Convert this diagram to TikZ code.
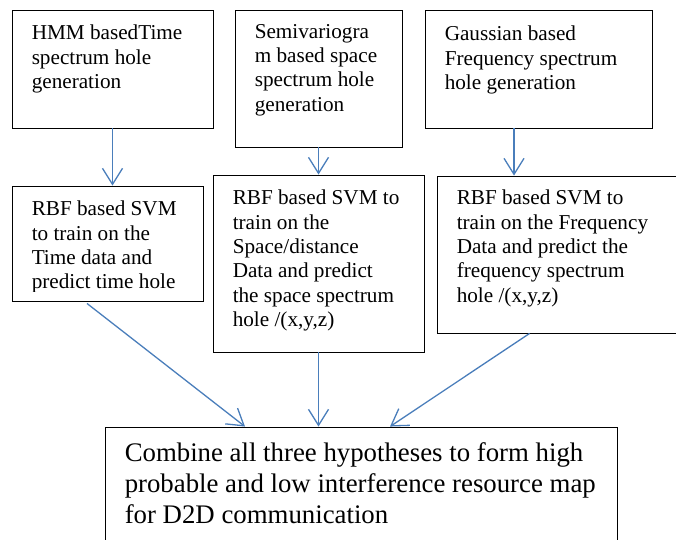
\documentclass[tikz,border=0pt]{standalone}
\usepackage{fontspec}
\setmainfont{Liberation Serif}
\usetikzlibrary{arrows.meta}
\definecolor{flowblue}{RGB}{74,126,187}
\tikzset{
  stagebox/.style={draw=black, line width=0.9pt, rectangle, inner sep=0pt},
  stagetext/.style={anchor=north west, align=left, inner sep=0pt,
    font=\fontsize{21.2}{24.3}\selectfont},
  finaltext/.style={anchor=north west, align=left, inner sep=0pt,
    font=\fontsize{26.8}{31}\selectfont},
  flow/.style={draw=flowblue, line width=1.3pt,
    -{Straight Barb[length=16pt,width=20pt,line width=1.3pt]}},
}
\begin{document}
\begin{tikzpicture}[x=1pt,y=-1pt]
\useasboundingbox (0,0) rectangle (676,539);
\begin{scope}
\clip (0,0) rectangle (676,539);

% generation stage
\node[stagebox, minimum width=201pt, minimum height=118pt] (A) at (112.5,69) {};
\node[stagebox, minimum width=167pt, minimum height=137pt] (B) at (318.5,78.5) {};
\node[stagebox, minimum width=227pt, minimum height=118pt] (C) at (538.5,69) {};

% prediction stage
\node[stagebox, minimum width=191pt, minimum height=115pt] (D) at (107.5,243.5) {};
\node[stagebox, minimum width=211pt, minimum height=177pt] (E) at (318.5,263.5) {};
\node[stagebox, minimum width=253pt, minimum height=157pt] (F) at (563.5,254.5) {};

% fusion stage
\node[stagebox, minimum width=512pt, minimum height=133pt] (G) at (361,493.5) {};

\node[stagetext] (tA) at ([xshift=20pt,yshift=-15.5pt]A.north west)
  {HMM basedTime\\spectrum hole\\generation};
\node[stagetext] (tB) at ([xshift=20pt,yshift=-14.5pt]B.north west)
  {Semivariogra\\m based space\\spectrum hole\\generation};
\node[stagetext] (tC) at ([xshift=20pt,yshift=-16.5pt]C.north west)
  {Gaussian based\\Frequency spectrum\\hole generation};

\begin{scope}
\clip ([yshift=-1pt]D.north west) rectangle ([yshift=10pt]D.south east);
\node[stagetext] (tD) at ([xshift=20pt,yshift=-15.5pt]D.north west)
  {RBF based SVM\\to train on the\\Time data and\\predict time hole};
\end{scope}
\node[stagetext] (tE) at ([xshift=20pt,yshift=-15.5pt]E.north west)
  {RBF based SVM to\\train on the\\Space/distance\\Data and predict\\the space spectrum\\hole /(x,y,z)};
\node[stagetext] (tF) at ([xshift=20pt,yshift=-14.5pt]F.north west)
  {RBF based SVM to\\train on the Frequency\\Data and predict the\\frequency spectrum\\hole /(x,y,z)};
\node[finaltext] (tG) at ([xshift=20pt,yshift=-15.7pt]G.north west)
  {Combine all three hypotheses to form high\\probable and low interference resource map\\for D2D communication};

% connectors
\draw[flow] (A.south) -- (A.south |- D.north);
\draw[flow] (B.south) -- (B.south |- E.north);
\draw[flow] ([xshift=-24.5pt]C.south) -- ([xshift=-24.5pt]C.south |- F.north);
\draw[flow] ([xshift=-20.5pt,yshift=-2pt]D.south) -- ([xshift=-116pt]G.north);
\draw[flow] (E.south) -- (E.south |- G.north);
\draw[flow] ([xshift=93pt]F.south west) -- ([xshift=29pt]G.north);
\end{scope}
\end{tikzpicture}
\end{document}
